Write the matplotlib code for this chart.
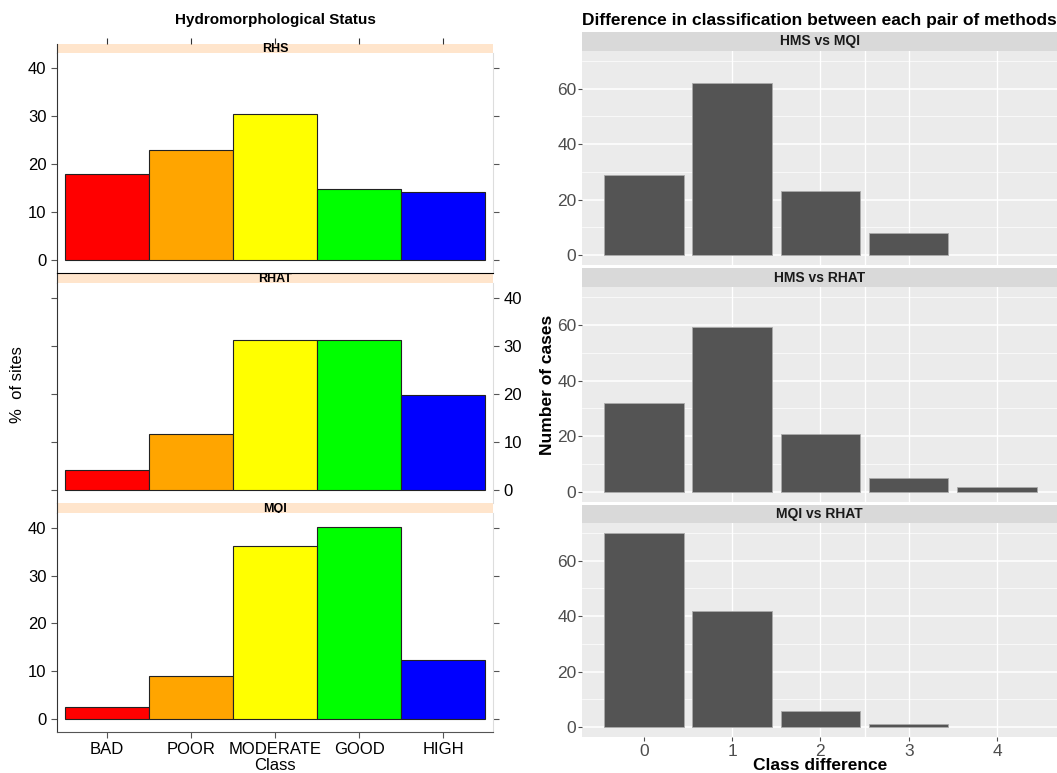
import matplotlib.pyplot as plt
import numpy as np

plt.rcParams['font.family'] = ['Liberation Sans', 'DejaVu Sans']

# left: % of sites per class for each method
classes = ['BAD', 'POOR', 'MODERATE', 'GOOD', 'HIGH']
class_colors = ['#ff0000', '#ffa500', '#ffff00', '#00ff00', '#0000ff']
methods = ['RHS', 'RHAT', 'MQI']
rhs = [18.0, 23.0, 30.3, 14.8, 14.1]
rhat = [4.1, 11.6, 31.2, 31.2, 19.7]
mqi = [2.5, 9.1, 36.1, 40.2, 12.4]
pct = [rhs, rhat, mqi]

# right: number of cases per class difference for each pair
diffs = [0, 1, 2, 3, 4]
pairs = ['HMS vs MQI', 'HMS vs RHAT', 'MQI vs RHAT']
hms_mqi = [29, 62, 23, 8, 0]
hms_rhat = [32, 59, 21, 5, 2]
mqi_rhat = [70, 42, 6, 1, 0]
cases = [hms_mqi, hms_rhat, mqi_rhat]

W, H = 1057, 773
fig = plt.figure(figsize=(W / 100, H / 100), dpi=100)


def px_axes(x0, y0, x1, y1):
    return fig.add_axes([x0 / W, 1 - y1 / H, (x1 - x0) / W, (y1 - y0) / H])


# ---------------- left panel (lattice style) ----------------
xpos = np.arange(1, 6)
lx0, lx1 = 57, 493
strips = [(44, 53), (273, 283), (503, 513)]
panels = [(53, 273), (283, 503), (513, 732)]

for i in range(3):
    sa = px_axes(lx0, strips[i][0], lx1, strips[i][1])
    sa.set_facecolor('#ffe5cc')
    sa.set_xlim(0.405, 5.595)
    sa.set_yticks([])
    for s in sa.spines.values():
        s.set_visible(False)
    if i == 0:
        sa.set_xticks(xpos)
        sa.tick_params(axis='x', top=True, bottom=False, labeltop=False,
                       labelbottom=False, direction='out', length=4, color='#333333')
    else:
        sa.set_xticks([])
    if i == 1:
        sa.spines['top'].set_visible(True)
        sa.spines['top'].set_color('black')
    sa.spines['left'].set_visible(True)
    sa.spines['left'].set_color('#333333')
    sa.text(0.5, 0.4, methods[i], transform=sa.transAxes, ha='center', va='center',
            fontsize=9, fontweight='bold')

    ax = px_axes(lx0, panels[i][0], lx1, panels[i][1])
    ax.bar(xpos, pct[i], width=1.0, color=class_colors, edgecolor='#222222', linewidth=0.8)
    ax.set_xlim(0.405, 5.595)
    ax.set_ylim(-2.7, 43.1)
    ax.set_yticks([0, 10, 20, 30, 40])
    ax.spines['top'].set_visible(False)
    ax.spines['left'].set_color('#333333')
    ax.spines['right'].set_color('#dddddd')
    ax.spines['bottom'].set_visible(i == 2)
    ax.spines['bottom'].set_color('#555555')
    if i == 1:
        ax.tick_params(axis='y', left=True, right=True, labelleft=False, labelright=True,
                       labelsize=12, length=4, color='#555555')
    else:
        ax.tick_params(axis='y', left=True, right=True, labelleft=True, labelright=False,
                       labelsize=12, length=4, color='#555555')
    if i == 2:
        ax.set_xticks(xpos)
        ax.set_xticklabels(classes)
        ax.tick_params(axis='x', labelsize=12, length=4, color='#555555')
    else:
        ax.set_xticks([])

fig.text(275 / W, 1 - 20 / H, 'Hydromorphological Status', ha='center', va='center',
         fontsize=11, fontweight='bold')
fig.text(275 / W, 1 - 765 / H, 'Class', ha='center', va='center', fontsize=12)
fig.text(18 / W, 1 - 385 / H, '%  of sites', ha='center', va='center', rotation=90,
         fontsize=12)

# ---------------- right panel (ggplot style) ----------------
rx0, rx1 = 582, 1057
rstrips = [(32, 51), (268, 287), (505, 523)]
rpanels = [(51, 265), (287, 502), (523, 737)]

for i in range(3):
    sa = px_axes(rx0, rstrips[i][0], rx1, rstrips[i][1])
    sa.set_facecolor('#d9d9d9')
    sa.set_xticks([])
    sa.set_yticks([])
    for s in sa.spines.values():
        s.set_visible(False)
    sa.text(0.5, 0.5, pairs[i], transform=sa.transAxes, ha='center', va='center',
            fontsize=10, fontweight='bold', color='#1a1a1a')

    ax = px_axes(rx0, rpanels[i][0], rx1, rpanels[i][1])
    ax.set_facecolor('#ebebeb')
    for s in ax.spines.values():
        s.set_visible(False)
    ax.set_xlim(-0.7, 4.68)
    ax.set_ylim(-3.5, 73.5)
    for y in [10, 30, 50, 70]:
        ax.axhline(y, color='white', linewidth=0.5, zorder=0)
    for y in [0, 20, 40, 60]:
        ax.axhline(y, color='white', linewidth=1.1, zorder=0)
    for x in [1, 2, 2.5, 3, 4]:
        ax.axvline(x, color='white', linewidth=1.0, zorder=0)
    lw = [0.6 if v > 0 else 0 for v in cases[i]]
    ax.bar(diffs, cases[i], width=0.9, color='#545454', edgecolor='#aaaaaa',
           linewidth=lw, zorder=2)
    ax.set_yticks([0, 20, 40, 60])
    ax.tick_params(axis='y', labelsize=12.5, labelcolor='#4d4d4d', length=3,
                   color='#4d4d4d', pad=1)
    if i == 2:
        ax.set_xticks(diffs)
        ax.tick_params(axis='x', labelsize=12.5, labelcolor='#4d4d4d', length=3,
                       color='#4d4d4d', pad=2)
    else:
        ax.set_xticks([])

fig.text(582 / W, 1 - 20 / H, 'Difference in classification between each pair of methods',
         ha='left', va='center', fontsize=12.5, fontweight='bold')
fig.text(820 / W, 1 - 765 / H, 'Class difference', ha='center', va='center',
         fontsize=12.5, fontweight='bold')
fig.text(548 / W, 1 - 385 / H, 'Number of cases', ha='center', va='center', rotation=90,
         fontsize=12.5, fontweight='bold')

fig.savefig('out.png', dpi=100)
